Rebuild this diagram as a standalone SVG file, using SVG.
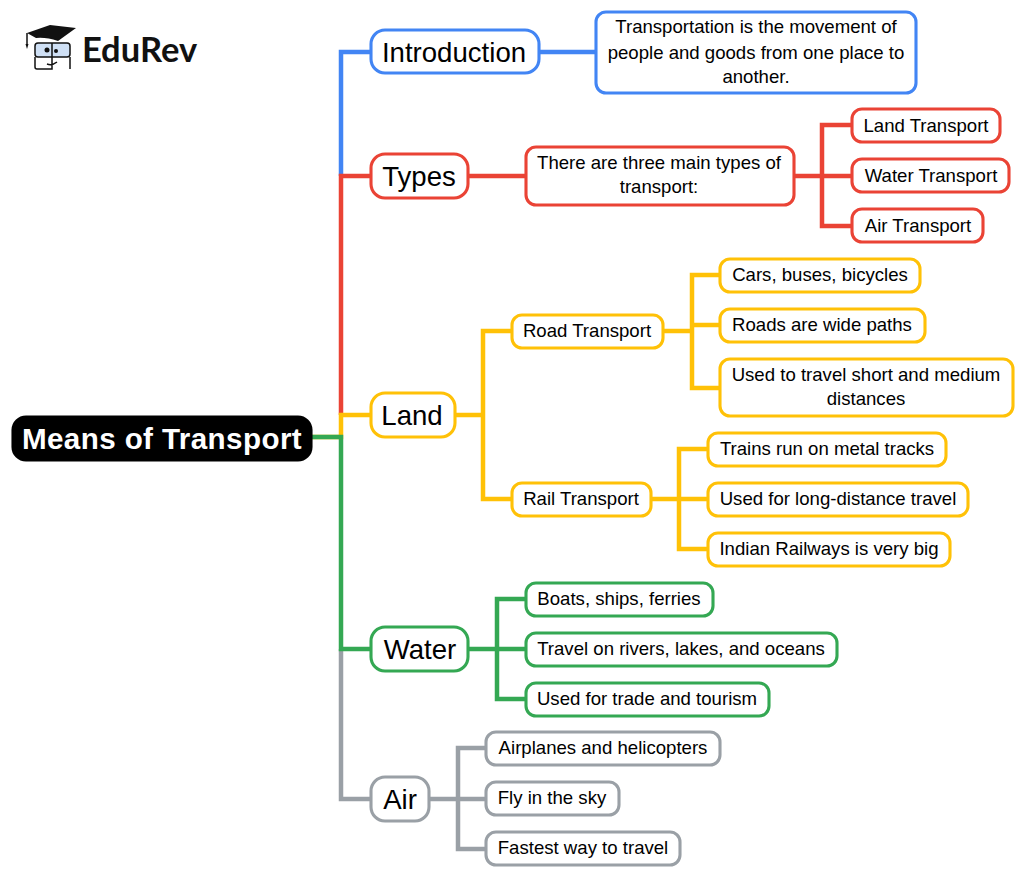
<svg xmlns="http://www.w3.org/2000/svg" width="1024" height="876" viewBox="0 0 1024 876">
<style>
text{font-family:"Liberation Sans",Arial,sans-serif;fill:#000;text-anchor:middle}
.s{font-size:18.6px}.m{font-size:27.6px}
rect{fill:#fff;stroke-width:3.1}
.c{fill:none;stroke-width:4.5}
.b{stroke:#4285f4}.r{stroke:#ea4335}.y{stroke:#ffc107}.g{stroke:#34a853}.a{stroke:#9aa0a6}
</style>
<rect width="1024" height="876" style="fill:#fff;stroke:none"/>
<g id="connectors">
<path class="c a" d="M341 649V799H371"/>
<path class="c b" d="M341 176V52H371"/>
<path class="c r" d="M341 415V176H371"/>
<path class="c y" d="M312 437H341V415H371"/>
<path class="c g" d="M312 437H341V649H371"/>
<path class="c b" d="M538 52H596"/>
<path class="c r" d="M467 176H526M794 176H822V125H852M822 176H852M822 176V226H852"/>
<path class="c y" d="M454 415H483V331H512M483 415V499H512M663 331H692V275H720M692 331V325H720M692 331V388H720M651 499H679V449H708M679 499H708M679 499V549H708"/>
<path class="c g" d="M468 649H497V599H526M497 649H526M497 649V699H526"/>
<path class="c a" d="M429 799H458V748H486M458 799H486M458 799V849H486"/>
</g>
<g id="root"><rect x="13" y="417" width="298" height="43" rx="13" style="fill:#000;stroke:#000"/><text x="162" y="449" style="font-size:29.6px;letter-spacing:.4px;font-weight:700;fill:#fff">Means of Transport</text></g>
<g id="intro"><rect class="b" x="371" y="30" width="168" height="43" rx="14"/><text class="m" x="454" y="61.500">Introduction</text></g>
<g id="intro-text"><rect class="b" x="596" y="12" width="320" height="81" rx="10"/><text class="s" x="756" y="33">Transportation is the movement of</text><text class="s" x="756" y="58.500">people and goods from one place to</text><text class="s" x="756" y="82.500">another.</text></g>
<g id="types"><rect class="r" x="371" y="154" width="97" height="44" rx="14"/><text class="m" x="419" y="185.500">Types</text></g>
<g id="types-text"><rect class="r" x="526" y="147" width="268" height="58" rx="10"/><text class="s" x="659" y="169">There are three main types of</text><text class="s" x="659" y="193">transport:</text></g>
<g id="land-transport"><rect class="r" x="852" y="109" width="148" height="33" rx="10"/><text class="s" x="926" y="131.500">Land Transport</text></g>
<g id="water-transport"><rect class="r" x="852" y="159" width="157" height="33" rx="10"/><text class="s" x="931" y="181.500">Water Transport</text></g>
<g id="air-transport"><rect class="r" x="852" y="209" width="131" height="33" rx="10"/><text class="s" x="918" y="231.500">Air Transport</text></g>
<g id="land"><rect class="y" x="371" y="393" width="84" height="44" rx="14"/><text class="m" x="412" y="424.500">Land</text></g>
<g id="road"><rect class="y" x="512" y="315" width="151" height="33" rx="10"/><text class="s" x="587" y="337">Road Transport</text></g>
<g id="cars"><rect class="y" x="720" y="259" width="200" height="33" rx="10"/><text class="s" x="820" y="281">Cars, buses, bicycles</text></g>
<g id="roads"><rect class="y" x="720" y="309" width="205" height="33" rx="10"/><text class="s" x="822" y="331">Roads are wide paths</text></g>
<g id="short"><rect class="y" x="720" y="359" width="293" height="57" rx="10"/><text class="s" x="866" y="381">Used to travel short and medium</text><text class="s" x="866" y="405">distances</text></g>
<g id="rail"><rect class="y" x="512" y="483" width="139" height="33" rx="10"/><text class="s" x="581" y="505">Rail Transport</text></g>
<g id="trains"><rect class="y" x="708" y="433" width="238" height="33" rx="10"/><text class="s" x="827" y="455">Trains run on metal tracks</text></g>
<g id="long"><rect class="y" x="708" y="483" width="260" height="33" rx="10"/><text class="s" x="838" y="505">Used for long-distance travel</text></g>
<g id="indian"><rect class="y" x="708" y="533" width="242" height="33" rx="10"/><text class="s" x="829" y="555">Indian Railways is very big</text></g>
<g id="water"><rect class="g" x="371" y="627" width="97" height="44" rx="14"/><text class="m" x="420" y="658.500">Water</text></g>
<g id="boats"><rect class="g" x="526" y="583" width="187" height="33" rx="10"/><text class="s" x="619" y="605">Boats, ships, ferries</text></g>
<g id="rivers"><rect class="g" x="526" y="633" width="311" height="33" rx="10"/><text class="s" x="681" y="655">Travel on rivers, lakes, and oceans</text></g>
<g id="trade"><rect class="g" x="526" y="683" width="243" height="33" rx="10"/><text class="s" x="647" y="705">Used for trade and tourism</text></g>
<g id="air"><rect class="a" x="371" y="777" width="58" height="44" rx="14"/><text class="m" x="400" y="808.500">Air</text></g>
<g id="planes"><rect class="a" x="486" y="732" width="234" height="33" rx="10"/><text class="s" x="603" y="754">Airplanes and helicopters</text></g>
<g id="fly"><rect class="a" x="486" y="782" width="133" height="33" rx="10"/><text class="s" x="552" y="804">Fly in the sky</text></g>
<g id="fastest"><rect class="a" x="486" y="832" width="194" height="33" rx="10"/><text class="s" x="583" y="854">Fastest way to travel</text></g>
<g id="logo">
<path d="M27 33L50 25L76 28L58 41Q46 37 36 38Z" style="fill:#111"/>
<path d="M27 33V46" style="stroke:#111;stroke-width:1.5;fill:none"/>
<path d="M25.500 44H28.500L27 49Z" style="fill:#111"/>
<rect x="35" y="43" width="35" height="14" rx="3" style="fill:#cfe0f5;stroke:#111;stroke-width:1.500"/>
<path d="M35 57V67Q35 69 37 69H52V43M70 57V69M47 64Q52 66 57 62" style="fill:none;stroke:#111;stroke-width:1.500"/>
<circle cx="47" cy="50" r="2.500" style="fill:#111"/><circle cx="56" cy="51" r="2" style="fill:#111"/>
<text x="139.500" y="62" style="font-size:34.500px;font-weight:700;font-family:Lato,'Liberation Sans',sans-serif;fill:#111">EduRev</text>
</g>
</svg>
